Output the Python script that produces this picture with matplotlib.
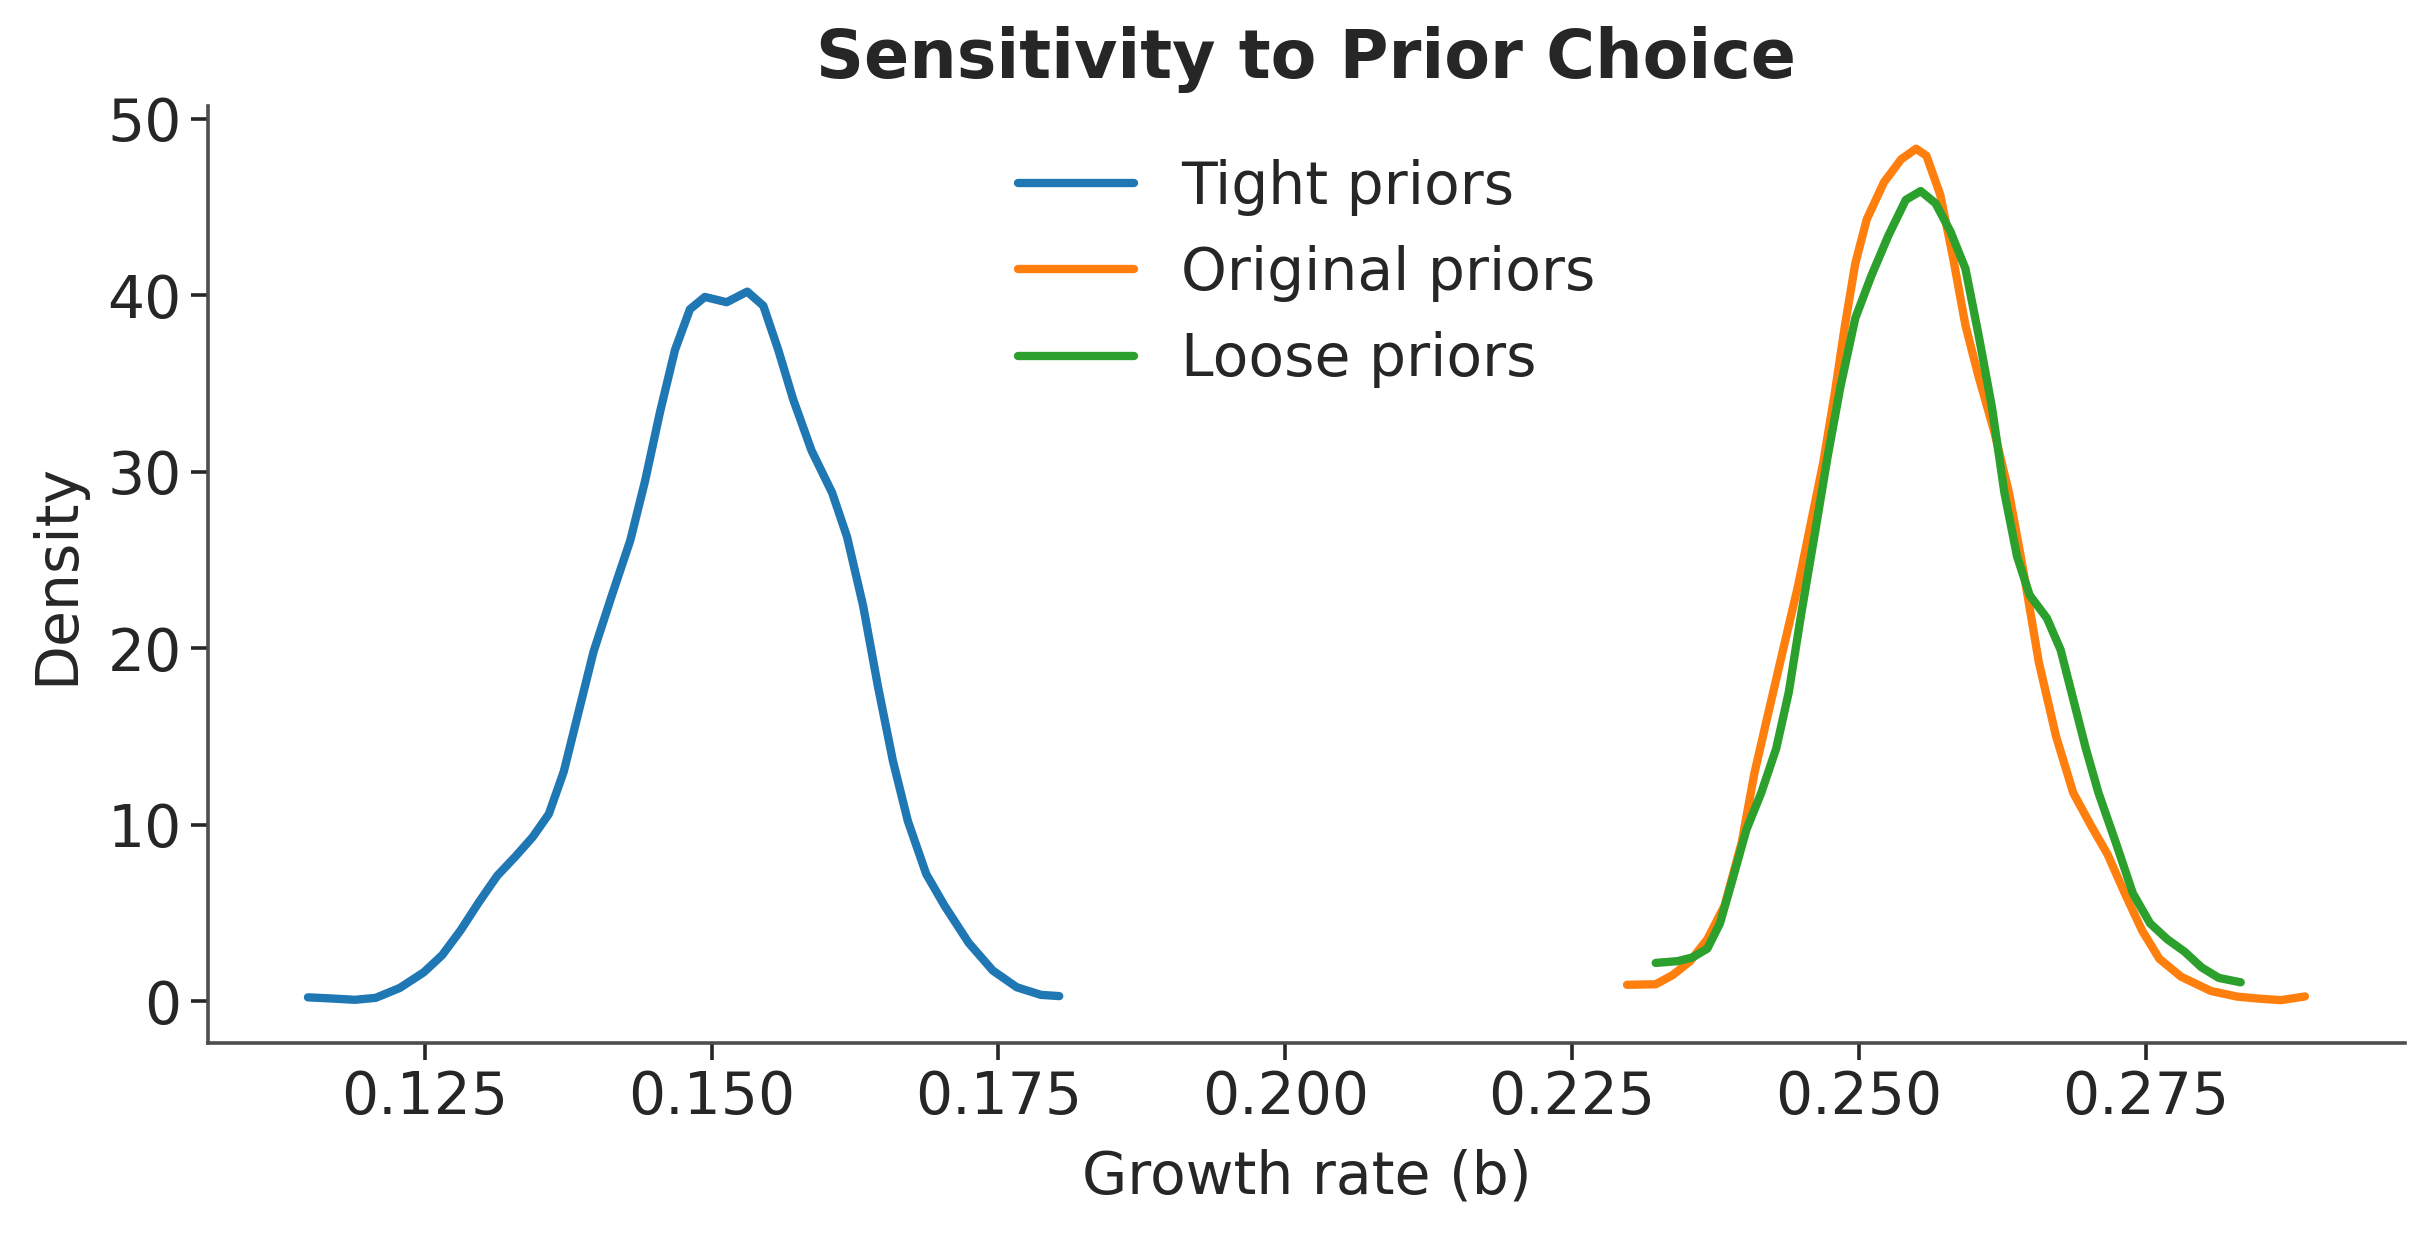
import matplotlib
matplotlib.use("Agg")
import matplotlib.pyplot as plt

# values (growth rate b, density)
tight_x = [0.1148, 0.1170, 0.1189, 0.1207, 0.1228, 0.1249, 0.1265, 0.1281, 0.1297, 0.1313,
           0.1329, 0.1344, 0.1358, 0.1371, 0.1384, 0.1397, 0.1413, 0.1429, 0.1442, 0.1455,
           0.1468, 0.1481, 0.1494, 0.1513, 0.1531, 0.1545, 0.1558, 0.1571, 0.1587, 0.1605,
           0.1618, 0.1632, 0.1645, 0.1658, 0.1671, 0.1687, 0.1703, 0.1724, 0.1745, 0.1766,
           0.1787, 0.1803]
tight_y = [0.21, 0.14, 0.07, 0.18, 0.74, 1.63, 2.6, 4.0, 5.6, 7.1,
           8.2, 9.3, 10.6, 13.0, 16.4, 19.8, 23.0, 26.1, 29.5, 33.4,
           36.9, 39.2, 39.9, 39.6, 40.2, 39.4, 36.9, 34.1, 31.2, 28.8,
           26.3, 22.4, 17.8, 13.6, 10.2, 7.2, 5.4, 3.3, 1.73, 0.78,
           0.35, 0.28]

orig_x = [0.2298, 0.2323, 0.2338, 0.2353, 0.2368, 0.2383, 0.2398, 0.2409, 0.2420, 0.2434,
          0.2447, 0.2458, 0.2469, 0.2479, 0.2488, 0.2497, 0.2507, 0.2522, 0.2537, 0.2550,
          0.2559, 0.2571, 0.2582, 0.2593, 0.2604, 0.2618, 0.2631, 0.2644, 0.2657, 0.2672,
          0.2687, 0.2702, 0.2717, 0.2732, 0.2747, 0.2762, 0.2781, 0.2807, 0.2830, 0.2848,
          0.2868, 0.2889]
orig_y = [0.92, 0.95, 1.48, 2.26, 3.5, 5.4, 9.0, 12.9, 16.0, 19.9,
          23.5, 27.0, 30.5, 34.4, 38.3, 41.8, 44.3, 46.4, 47.7, 48.3,
          47.9, 45.7, 42.2, 38.3, 35.5, 32.3, 28.8, 24.2, 19.2, 15.0,
          11.8, 10.0, 8.3, 6.1, 4.0, 2.4, 1.38, 0.57, 0.25, 0.14,
          0.05, 0.26]

loose_x = [0.2323, 0.2342, 0.2355, 0.2368, 0.2379, 0.2390, 0.2402, 0.2415, 0.2428, 0.2439,
           0.2450, 0.2462, 0.2473, 0.2484, 0.2497, 0.2511, 0.2526, 0.2541, 0.2554, 0.2567,
           0.2580, 0.2593, 0.2604, 0.2616, 0.2627, 0.2638, 0.2649, 0.2664, 0.2676, 0.2687,
           0.2698, 0.2709, 0.2724, 0.2739, 0.2754, 0.2769, 0.2784, 0.2799, 0.2814, 0.2833]
loose_y = [2.16, 2.26, 2.47, 2.97, 4.4, 6.9, 9.7, 11.8, 14.3, 17.5,
           22.0, 26.6, 30.9, 34.8, 38.7, 41.1, 43.4, 45.4, 45.9, 45.2,
           43.6, 41.5, 37.9, 33.7, 28.8, 25.2, 23.0, 21.7, 19.9, 17.1,
           14.3, 11.8, 9.0, 6.1, 4.4, 3.5, 2.8, 1.9, 1.31, 1.06]

series = [
    ("Tight priors", tight_x, tight_y, "#1f77b4"),
    ("Original priors", orig_x, orig_y, "#ff7f0e"),
    ("Loose priors", loose_x, loose_y, "#2ca02c"),
]

plt.rcParams.update({
    "font.family": "DejaVu Sans",
    "text.color": "#262626",
    "axes.labelcolor": "#262626",
    "xtick.color": "#262626",
    "ytick.color": "#262626",
})

fig, ax = plt.subplots(figsize=(12.17, 6.17), dpi=200)
fig.subplots_adjust(left=0.0855, right=0.988, top=0.914, bottom=0.155)

for name, xs, ys, color in series:
    ax.plot(xs, ys, color=color, lw=3.0, label=name,
            solid_capstyle="round", solid_joinstyle="round")

ax.set_xticks([0.125, 0.150, 0.175, 0.200, 0.225, 0.250, 0.275])
ax.set_yticks([0, 10, 20, 30, 40, 50])
ax.tick_params(labelsize=21, width=1.3, length=6, color="#262626")
ax.set_xlabel("Growth rate (b)", fontsize=21, labelpad=8)
ax.set_ylabel("Density", fontsize=21, labelpad=8)
ax.set_title("Sensitivity to Prior Choice", fontsize=24, fontweight="bold", pad=10)

for side in ["top", "right"]:
    ax.spines[side].set_visible(False)
for side in ["left", "bottom"]:
    ax.spines[side].set_color("#4d4d4d")
    ax.spines[side].set_linewidth(1.3)

ax.legend(loc="upper center", frameon=False, fontsize=21, handlelength=2.0)

fig.savefig("out.png", dpi=200)
